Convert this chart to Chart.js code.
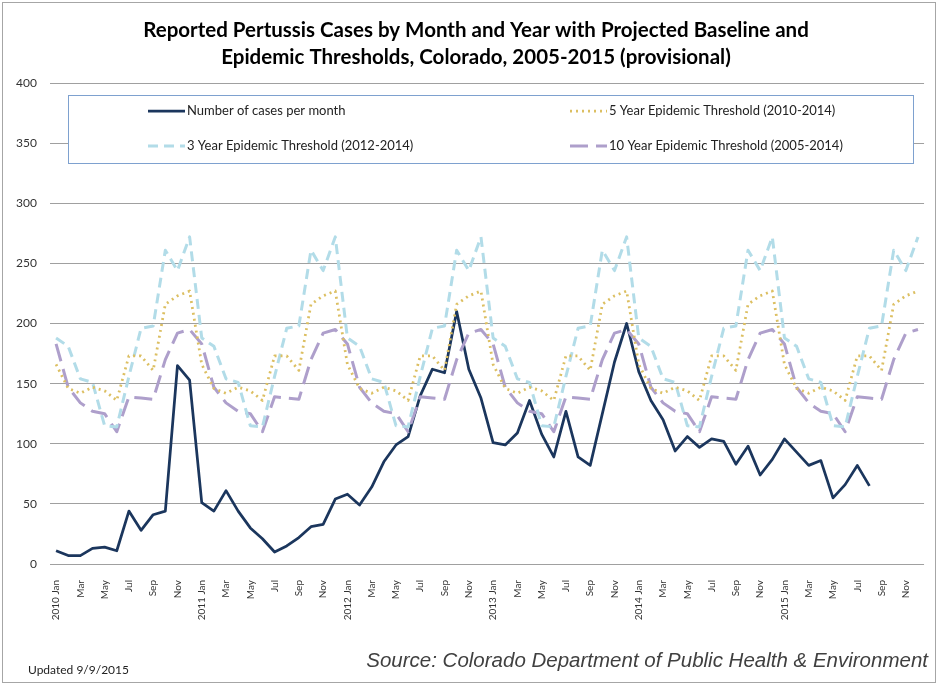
<!DOCTYPE html>
<html>
<head>
<meta charset="utf-8">
<script src="https://cdn.jsdelivr.net/npm/chart.js@4.4.1/dist/chart.umd.min.js"></script>
<style>
body { margin: 0; background: #fff; }
#wrap { position: relative; width: 938px; height: 685px; }
</style>
</head>
<body>
<div id="wrap"><canvas id="pertussisChart" width="938" height="685"></canvas></div>
<script>
// tick labels
var years = [2010, 2011, 2012, 2013, 2014, 2015];
var monthNames = ['Jan', 'Feb', 'Mar', 'Apr', 'May', 'Jun', 'Jul', 'Aug', 'Sep', 'Oct', 'Nov', 'Dec'];
var yTicks = [0, 50, 100, 150, 200, 250, 300, 350, 400];

// reported cases per month, Jan 2010 - Aug 2015
var casesPerMonth = [
  11, 7, 7, 13, 14, 11, 44, 28, 41, 44, 165, 153,
  51, 44, 61, 44, 30, 21, 10, 15, 22, 31, 33, 54,
  58, 49, 64, 85, 99, 106, 140, 162, 159, 210, 162, 138,
  101, 99, 109, 136, 108, 89, 127, 89, 82, 125, 168, 200,
  160, 136, 120, 94, 106, 97, 104, 102, 83, 98, 74, 87,
  104, 93, 82, 86, 55, 66, 82, 65, null, null, null, null
];

// 5 year epidemic threshold (2010-2014)
var threshold5yr = [
  166, 146, 142, 147, 144, 136, 173, 173, 161, 216, 223, 227,
  166, 146, 142, 147, 144, 136, 173, 173, 161, 216, 223, 227,
  166, 146, 142, 147, 144, 136, 173, 173, 161, 216, 223, 227,
  166, 146, 142, 147, 144, 136, 173, 173, 161, 216, 223, 227,
  166, 146, 142, 147, 144, 136, 173, 173, 161, 216, 223, 227,
  166, 146, 142, 147, 144, 136, 173, 173, 161, 216, 223, 227
];

// 3 year epidemic threshold (2012-2014)
var threshold3yr = [
  188, 181, 154, 151, 115, 114, 156, 196, 198, 261, 244, 272,
  188, 181, 154, 151, 115, 114, 156, 196, 198, 261, 244, 272,
  188, 181, 154, 151, 115, 114, 156, 196, 198, 261, 244, 272,
  188, 181, 154, 151, 115, 114, 156, 196, 198, 261, 244, 272,
  188, 181, 154, 151, 115, 114, 156, 196, 198, 261, 244, 272,
  188, 181, 154, 151, 115, 114, 156, 196, 198, 261, 244, 272
];

// 10 year epidemic threshold (2005-2014)
var threshold10yr = [
  183, 147, 134, 127, 125, 110, 139, 138, 137, 170, 192, 195,
  183, 147, 134, 127, 125, 110, 139, 138, 137, 170, 192, 195,
  183, 147, 134, 127, 125, 110, 139, 138, 137, 170, 192, 195,
  183, 147, 134, 127, 125, 110, 139, 138, 137, 170, 192, 195,
  183, 147, 134, 127, 125, 110, 139, 138, 137, 170, 192, 195,
  183, 147, 134, 127, 125, 110, 139, 138, 137, 170, 192, 195
];

var seriesNames = [
  'Number of cases per month',
  '5 Year Epidemic Threshold (2010-2014)',
  '3 Year Epidemic Threshold (2012-2014)',
  '10 Year Epidemic Threshold (2005-2014)'
];

// build "2010 Jan", "Feb", ... labels
var monthLabels = [];
years.forEach(function (yr) {
  monthNames.forEach(function (m, i) {
    monthLabels.push(i === 0 ? yr + ' Jan' : m);
  });
});

var styles = {
  cases: { color: '#1b365d', width: 2.75, dash: [] },
  fiveYr: { color: '#dcbf62', width: 2.75, dash: [2, 4] },
  threeYr: { color: '#b2dce8', width: 3, dash: [10, 6] },
  tenYr: { color: '#ae9fcb', width: 3, dash: [18, 8] }
};

var textFont = 'Lato, "Open Sans", sans-serif';

// title, legend box, footer notes and the outer frame
var extrasPlugin = {
  id: 'extras',
  beforeDraw: function (chart) {
    var ctx = chart.ctx;
    ctx.save();
    ctx.fillStyle = '#fff';
    ctx.fillRect(0, 0, chart.width, chart.height);
    ctx.strokeStyle = '#a6a6a6';
    ctx.lineWidth = 1;
    ctx.strokeRect(2.5, 2.5, chart.width - 5, chart.height - 5);
    ctx.restore();
  },
  afterDraw: function (chart) {
    var ctx = chart.ctx;
    ctx.save();

    // title
    ctx.fillStyle = '#000';
    ctx.textAlign = 'center';
    ctx.textBaseline = 'middle';
    ctx.font = 'bold 20.5px ' + textFont;
    ctx.fillText('Reported Pertussis Cases by Month and Year with Projected Baseline and', 476, 30);
    ctx.fillText('Epidemic Thresholds, Colorado, 2005-2015 (provisional)', 476, 57);

    // legend box
    ctx.fillStyle = '#fff';
    ctx.fillRect(68, 95, 845, 68);
    ctx.strokeStyle = '#7ea1cf';
    ctx.lineWidth = 1;
    ctx.strokeRect(68.5, 95.5, 845, 68);

    var items = [
      { s: styles.cases, name: seriesNames[0], x: 148, y: 111 },
      { s: styles.fiveYr, name: seriesNames[1], x: 570, y: 111 },
      { s: styles.threeYr, name: seriesNames[2], x: 148, y: 146 },
      { s: styles.tenYr, name: seriesNames[3], x: 570, y: 146 }
    ];
    ctx.font = '13px ' + textFont;
    ctx.textAlign = 'left';
    items.forEach(function (it) {
      ctx.beginPath();
      ctx.strokeStyle = it.s.color;
      ctx.lineWidth = it.s.width;
      ctx.setLineDash(it.s.dash);
      ctx.moveTo(it.x, it.y);
      ctx.lineTo(it.x + 37, it.y);
      ctx.stroke();
      ctx.setLineDash([]);
      ctx.fillStyle = '#222';
      ctx.fillText(it.name, it.x + 39, it.y);
    });

    // footer
    ctx.fillStyle = '#222';
    ctx.font = '12px ' + textFont;
    ctx.fillText('Updated 9/9/2015', 28, 670);
    ctx.textAlign = 'right';
    ctx.fillStyle = '#404040';
    ctx.font = 'italic 20.5px "Liberation Sans", Arial, sans-serif';
    ctx.fillText('Source: Colorado Department of Public Health & Environment', 928, 661);

    ctx.restore();
  }
};

function lineSet(label, data, st, order) {
  return {
    label: label,
    data: data,
    borderColor: st.color,
    backgroundColor: st.color,
    borderWidth: st.width,
    borderDash: st.dash,
    borderCapStyle: 'butt',
    borderJoinStyle: 'round',
    pointRadius: 0,
    tension: 0,
    fill: false,
    order: order,
    spanGaps: false
  };
}

var ctx = document.getElementById('pertussisChart').getContext('2d');
var pertussisChart = new Chart(ctx, {
  type: 'line',
  data: {
    labels: monthLabels,
    datasets: [
      lineSet(seriesNames[0], casesPerMonth, styles.cases, 4),
      lineSet(seriesNames[1], threshold5yr, styles.fiveYr, 1),
      lineSet(seriesNames[2], threshold3yr, styles.threeYr, 2),
      lineSet(seriesNames[3], threshold10yr, styles.tenYr, 3)
    ]
  },
  options: {
    responsive: false,
    animation: false,
    devicePixelRatio: 1,
    layout: { padding: { top: 83, left: 0, right: 3, bottom: 0 } },
    plugins: {
      legend: { display: false },
      title: { display: false },
      tooltip: { enabled: false }
    },
    scales: {
      x: {
        offset: true,
        grid: { display: false },
        border: { display: false },
        ticks: {
          autoSkip: false,
          minRotation: 90,
          maxRotation: 90,
          padding: 8,
          color: '#333',
          font: { family: textFont, size: 10 },
          callback: function (val, idx) {
            return idx % 2 === 0 ? monthLabels[idx] : '';
          }
        },
        afterFit: function (scale) { scale.height = 121; }
      },
      y: {
        min: yTicks[0],
        max: yTicks[yTicks.length - 1],
        afterBuildTicks: function (scale) {
          scale.ticks = yTicks.map(function (v) { return { value: v }; });
        },
        grid: { color: '#a0a0a0', lineWidth: 1, drawTicks: false },
        border: { display: false },
        ticks: {
          padding: 13,
          color: '#333',
          font: { family: textFont, size: 12 }
        },
        afterFit: function (scale) { scale.width = 50; }
      }
    }
  },
  plugins: [extrasPlugin]
});
</script>
</body>
</html>
